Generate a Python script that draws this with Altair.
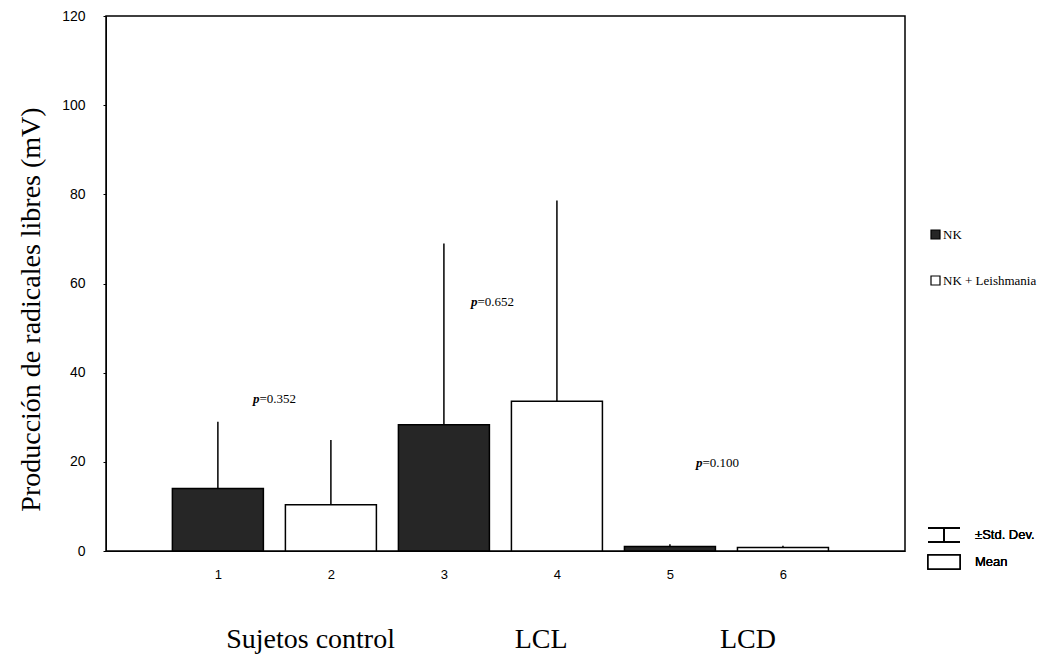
import altair as alt
import pandas as pd

# data
bar_id = [1, 2, 3, 4, 5, 6]
means = [14.0, 10.4, 28.3, 33.6, 1.0, 0.8]
sds = [15.0, 14.5, 40.7, 45.0, 0.5, 0.4]
treatment = ["NK", "NK + Leishmania", "NK", "NK + Leishmania", "NK", "NK + Leishmania"]

p_values = ["=0.352", "=0.652", "=0.100"]
p_x = [1.5, 3.43, 5.42]
p_y = [34.0, 55.8, 19.8]

group_names = ["Sujetos control", "LCL", "LCD"]
group_x = [1.82, 3.86, 5.69]

df = pd.DataFrame({"id": bar_id, "mean": means, "sd": sds, "trat": treatment})
df["upper"] = df["mean"] + df["sd"]
pdf = pd.DataFrame({"label": p_values, "x": p_x, "y": p_y})
gdf = pd.DataFrame({"label": group_names, "x": group_x})

W, H = 799, 535
xscale = alt.Scale(domain=[0.01, 7.08], nice=False, zero=False, padding=0)
yscale = alt.Scale(domain=[0, 120], nice=False, padding=0)

xenc = alt.X("id:Q", scale=xscale,
             axis=alt.Axis(values=bar_id, title=None, format="d", grid=False,
                           labelFont="Liberation Sans", labelFontSize=13,
                           labelColor="black", labelPadding=17, tickSize=0,
                           domainColor="black"))
yenc = alt.Y("mean:Q", scale=yscale,
             axis=alt.Axis(values=[0, 20, 40, 60, 80, 100, 120], grid=False,
                           title="Producción de radicales libres (mV)",
                           titleFont="Liberation Serif", titleFontSize=28,
                           titleFontWeight="normal", titleColor="black",
                           titleX=-67, titleY=293, titleAlign="center",
                           titleBaseline="alphabetic", titleAngle=270,
                           labelFont="Liberation Sans", labelFontSize=14,
                           labelColor="black", labelPadding=18, tickSize=3,
                           tickColor="black", domainColor="black"))

bars = alt.Chart(df).mark_bar(size=91, stroke="black", strokeWidth=1.5).encode(
    x=xenc, y=yenc,
    fill=alt.Fill("trat:N",
                  scale=alt.Scale(domain=["NK", "NK + Leishmania"],
                                  range=["#262626", "white"]),
                  legend=alt.Legend(title=None, orient="none", legendX=823,
                                    legendY=212, symbolType="square",
                                    symbolSize=81, symbolStrokeColor="black",
                                    symbolStrokeWidth=1.2, rowPadding=31,
                                    labelFont="Liberation Serif", labelFontSize=13,
                                    labelColor="black", labelOffset=1)),
)

err = alt.Chart(df).mark_rule(color="black", strokeWidth=1.5).encode(
    x="id:Q", y="mean:Q", y2="upper:Q")

ptext = alt.Chart(pdf).mark_text(font="Liberation Serif", fontSize=13,
                                 color="black", align="left", dx=-15).encode(
    x="x:Q", y="y:Q", text="label:N")
pitalic = alt.Chart(pdf).mark_text(font="Liberation Serif", fontSize=13,
                                   fontStyle="italic", fontWeight="bold",
                                   color="black", align="right", dx=-15).encode(
    x="x:Q", y="y:Q", text=alt.value("p"))

gtext = alt.Chart(gdf).mark_text(font="Liberation Serif", fontSize=28,
                                 color="black", align="center",
                                 baseline="alphabetic").encode(
    x="x:Q", y=alt.value(H + 97), text="label:N")

# second legend (std dev / mean)
leg_rule_top = alt.Chart(gdf).mark_rule(color="black", strokeWidth=1.5).encode(
    x=alt.value(822), x2=alt.value(854), y=alt.value(512))
leg_rule_bot = alt.Chart(gdf).mark_rule(color="black", strokeWidth=1.5).encode(
    x=alt.value(822), x2=alt.value(854), y=alt.value(526))
leg_rule_mid = alt.Chart(gdf).mark_rule(color="black", strokeWidth=1.5).encode(
    x=alt.value(838), y=alt.value(512), y2=alt.value(526))
leg_rect = alt.Chart(gdf).mark_rect(fill="white", stroke="black", strokeWidth=1.5).encode(
    x=alt.value(822), x2=alt.value(854), y=alt.value(539), y2=alt.value(553))
leg_t1 = alt.Chart(gdf).mark_text(font="Liberation Sans", fontSize=13, color="black",
                                  fontWeight="normal", align="left",
                                  baseline="middle").encode(
    x=alt.value(869), y=alt.value(519), text=alt.value("±Std. Dev."))
leg_t2 = alt.Chart(gdf).mark_text(font="Liberation Sans", fontSize=13, color="black",
                                  fontWeight="normal", align="left",
                                  baseline="middle").encode(
    x=alt.value(869), y=alt.value(546), text=alt.value("Mean"))

chart = alt.layer(bars, err, ptext, pitalic, gtext, leg_rule_top, leg_rule_bot,
                  leg_rule_mid, leg_rect, leg_t1, leg_t2).properties(
    width=W, height=H,
    autosize=alt.AutoSizeParams(type="none"),
    padding={"left": 98, "top": 8, "right": 148, "bottom": 112},
    background="white",
).configure_view(stroke="black", strokeWidth=1.5)

chart.save("out.html", embed_options={"renderer": "svg", "actions": False})
